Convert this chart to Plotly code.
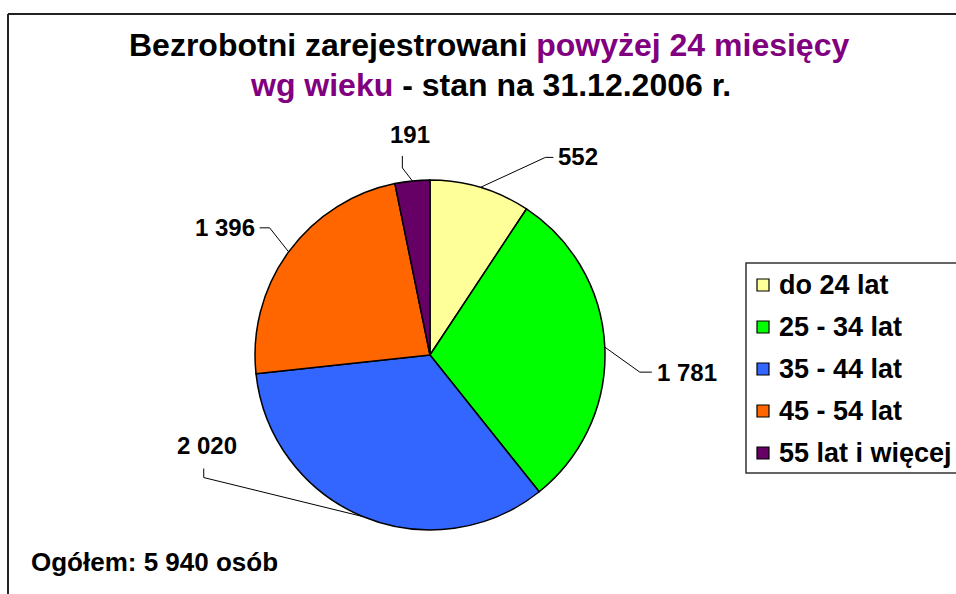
import math
import plotly.graph_objects as go

# ---------------- data ----------------
categories = ["do 24 lat", "25 - 34 lat", "35 - 44 lat", "45 - 54 lat", "55 lat i więcej"]
values = [552, 1781, 2020, 1396, 191]
colors = ["#FFFF99", "#00FF00", "#3366FF", "#FF6600", "#660066"]

title_parts_line1 = [("Bezrobotni zarejestrowani ", "#000000"), ("powyżej 24 miesięcy", "#800080")]
title_parts_line2 = [("wg wieku", "#800080"), (" - stan na 31.12.2006 r.", "#000000")]
total_prefix = "Ogółem: "
total_suffix = " osób"

# ---------------- layout config ----------------
W, H = 956, 594
CX, CY, R = 430, 355, 175
FONT = "Liberation Sans, Arial, sans-serif"

# leader line geometry per slice: elbow offset from edge point, tail offset from elbow,
# text offset from tail end, xanchor, yanchor
leader_cfg = [
    dict(elbow=(65, -30), tail=(8, 0), text=(3, -1), xa="left", ya="middle"),
    dict(elbow=(35, 25), tail=(12, 0), text=(3, 0), xa="left", ya="middle"),
    dict(elbow=(-159, -39), tail=(0, -9), text=(3, -23), xa="center", ya="middle"),
    dict(elbow=(-19, -24), tail=(-10, 0), text=(-3, 0), xa="right", ya="middle"),
    dict(elbow=(-10, -13), tail=(0, -12), text=(8, -21), xa="center", ya="middle"),
]


def X(px):
    return px / W


def Y(py):
    return 1 - py / H


def fmt(n):
    return f"{n:,}".replace(",", " ")


fig = go.Figure()
fig.add_trace(go.Pie(
    labels=categories,
    values=values,
    sort=False,
    direction="clockwise",
    rotation=0,
    marker=dict(colors=colors, line=dict(color="#000000", width=1.5)),
    textinfo="none",
    hoverinfo="label+value+percent",
    showlegend=False,
    domain=dict(x=[X(CX - R), X(CX + R)], y=[Y(CY + R), Y(CY - R)]),
))

shapes = []
annotations = []

# frame (top and left edges of chart area)
shapes.append(dict(type="line", xref="paper", yref="paper", x0=X(8), x1=X(W + 20), y0=Y(14), y1=Y(14),
                   line=dict(color="#222222", width=2)))
shapes.append(dict(type="line", xref="paper", yref="paper", x0=X(8), x1=X(8), y0=Y(14), y1=Y(H + 20),
                   line=dict(color="#222222", width=2)))

# leader lines + value labels
total = sum(values)
cum = 0
for v, cfg in zip(values, leader_cfg):
    mid = (cum + v / 2) / total * 2 * math.pi
    cum += v
    ex = CX + R * math.sin(mid)
    ey = CY - R * math.cos(mid)
    bx, by = ex + cfg["elbow"][0], ey + cfg["elbow"][1]
    tx, ty = bx + cfg["tail"][0], by + cfg["tail"][1]
    path = f"M {X(ex)},{Y(ey)} L {X(bx)},{Y(by)} L {X(tx)},{Y(ty)}"
    shapes.append(dict(type="path", xref="paper", yref="paper", path=path,
                       line=dict(color="#000000", width=1)))
    annotations.append(dict(
        xref="paper", yref="paper", x=X(tx + cfg["text"][0]), y=Y(ty + cfg["text"][1]),
        text=f"<b>{fmt(v)}</b>", showarrow=False, xanchor=cfg["xa"], yanchor=cfg["ya"],
        font=dict(family=FONT, size=24, color="#000000"),
    ))

# title
def rich(parts):
    return "".join(f"<span style='color:{c}'><b>{t}</b></span>" for t, c in parts)

annotations.append(dict(xref="paper", yref="paper", x=X(489), y=Y(45), text=rich(title_parts_line1),
                        showarrow=False, xanchor="center", yanchor="middle",
                        font=dict(family=FONT, size=32, color="#000000")))
annotations.append(dict(xref="paper", yref="paper", x=X(490), y=Y(85), text=rich(title_parts_line2),
                        showarrow=False, xanchor="center", yanchor="middle",
                        font=dict(family=FONT, size=32, color="#000000")))

# total
annotations.append(dict(xref="paper", yref="paper", x=X(29), y=Y(562),
                        text=f"<b>{total_prefix}{fmt(total)}{total_suffix}</b>",
                        showarrow=False, xanchor="left", yanchor="middle",
                        font=dict(family=FONT, size=26, color="#000000")))

# legend (manual)
shapes.append(dict(type="rect", xref="paper", yref="paper", x0=X(746), x1=X(W + 40), y0=Y(263), y1=Y(473),
                   line=dict(color="#333333", width=1.5), fillcolor="#FFFFFF"))
for i, (cat, col) in enumerate(zip(categories, colors)):
    ry = 285 + 42 * i
    shapes.append(dict(type="rect", xref="paper", yref="paper", x0=X(757), x1=X(769), y0=Y(ry - 6), y1=Y(ry + 6),
                       line=dict(color="#000000", width=1.2), fillcolor=col))
    annotations.append(dict(xref="paper", yref="paper", x=X(777), y=Y(ry), text=f"<b>{cat}</b>",
                            showarrow=False, xanchor="left", yanchor="middle",
                            font=dict(family=FONT, size=27, color="#000000")))

fig.update_layout(
    width=W, height=H,
    margin=dict(l=0, r=0, t=0, b=0),
    paper_bgcolor="#FFFFFF",
    plot_bgcolor="#FFFFFF",
    shapes=shapes,
    annotations=annotations,
    showlegend=False,
)

fig.write_html(
    "out.html",
    config={"displayModeBar": False},
    post_script="document.body.style.margin='0';document.body.style.overflow='hidden';",
)
